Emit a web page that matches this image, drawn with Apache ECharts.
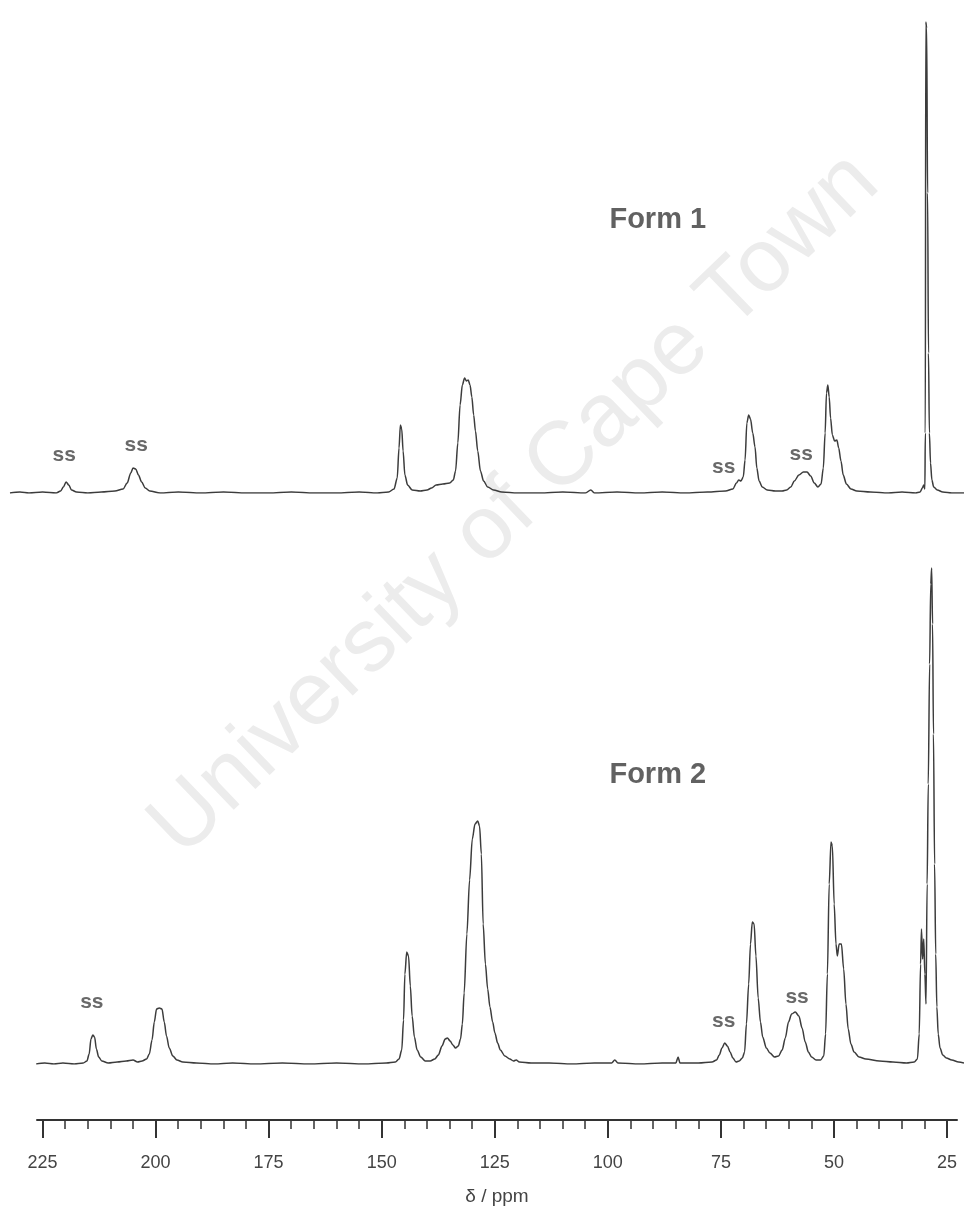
<!DOCTYPE html>
<html style="height: 100%">
<head>
<meta charset="utf-8">
</head>
<body style="height: 100%; margin: 0; background: #fff">
<div id="container" style="width: 964px; height: 1219px"></div>
<script type="text/javascript" src="https://cdn.jsdelivr.net/npm/echarts@6/dist/echarts.min.js"></script>
<script type="text/javascript">
// spectra: [ppm, intensity] (intensity in arbitrary units)
var form1 = [
  [232.2,0],[230,1],[228,0],[225,1],[222,0],[221,2],[220.4,6],[219.8,11],[219.2,8],[218.6,3],[217.5,1],[215,0],
  [212,1],[209,2],[207.2,4],[206.3,10],[205.5,20],[205,25],[204.4,24],[203.8,18],[203.1,11],[202.3,5],[201.3,2],
  [199,0],[195,1],[190,0],[185,1],[180,0],[175,0],[170,1],[165,0],[160,0],[155,1],[151,0],[148.5,1],
  [147.3,4],[146.6,15],[146.2,45],[145.9,68],[145.6,64],[145.3,42],[144.9,18],[144.3,8],[143.3,3],[141.5,2],
  [140,3],[139,5],[138,8],[136.5,9],[135,10],[134.2,13],[133.7,22],[133.2,50],[132.7,88],[132.2,108],
  [131.7,115],[131.3,112],[130.9,113],[130.5,108],[130.1,96],[129.7,78],[129.3,62],[128.8,42],[128.2,22],
  [127.5,12],[126.6,6],[125.3,3],[123.5,1],[120,0],[115,0],[110,1],[105,0],[103.8,3],[103,0],[98,1],[93,0],
  [88,1],[83,0],[78,1],[74,2],[72.4,4],[71.6,10],[71.1,13],[70.6,12],[70.1,16],[69.7,33],[69.3,70],[68.9,78],
  [68.5,74],[68.0,60],[67.5,46],[67.1,25],[66.6,12],[65.9,6],[64.8,3],[63,2],[61.5,2],[60.5,3],[59.6,6],
  [58.8,12],[57.8,18],[56.8,21],[56,21],[55.2,17],[54.4,10],[53.6,6],[52.9,9],[52.4,25],[52.0,60],[51.7,100],
  [51.4,108],[51.1,96],[50.8,75],[50.4,58],[49.9,52],[49.4,53],[49.0,45],[48.5,32],[48.0,18],[47.3,9],
  [46.3,4],[45,2],[42,1],[38,0],[35,1],[32,0],[31,1],[30.5,5],[30.2,8],[29.95,4],[29.85,60],[29.75,471],
  [29.55,465],[29.35,300],[29.15,140],[28.95,60],[28.7,30],[28.4,13],[28.0,6],[27.2,3],[26,1],[24,0],[21.3,0]
];
var form2 = [
  [226.4,0],[224.5,1],[222.5,0],[220.5,1],[218,0],[216,1],[215.2,3],[214.7,10],[214.3,25],[213.9,29],
  [213.5,27],[213.1,15],[212.6,7],[211.9,3],[210.5,1],[208.5,2],[206.5,3],[205,4],[204,2],[203,3],[202,5],
  [201.4,10],[200.8,24],[200.3,42],[199.8,55],[199.2,56],[198.6,55],[198.1,42],[197.6,28],[197,16],
  [196.2,8],[195.3,4],[194,2],[191,1],[187,0],[183,1],[178,0],[172,1],[166,0],[160,1],[154,0],[149,1],
  [147,2],[146.2,5],[145.6,14],[145.2,44],[144.9,90],[144.5,112],[144.1,108],[143.7,78],[143.3,48],
  [142.8,27],[142.2,14],[141.4,7],[140.4,3],[139.3,3],[138.3,5],[137.5,9],[136.7,18],[136,25],[135.5,26],
  [134.9,23],[134.3,19],[133.7,16],[133.1,18],[132.6,25],[132.2,40],[131.8,71],[131.2,130],[130.6,184],
  [130.0,225],[129.4,240],[128.8,243],[128.4,238],[128.0,210],[127.6,140],[127.1,100],[126.6,75],[126.1,57],
  [125.5,42],[125,31],[124.4,21],[123.8,14],[122.8,8],[121.7,5],[120.9,3],[120.3,4],[119.6,2],[117,1],
  [113,1],[108,0],[103,1],[99.2,1],[98.5,4],[97.8,1],[93,0],[88,1],[85,1],[84.5,7],[84.1,1],[80,1],[77,2],
  [76,4],[75.4,9],[74.8,16],[74.2,21],[73.6,18],[73.0,12],[72.4,6],[71.7,2],[71.0,3],[70.3,6],[69.8,12],
  [69.4,40],[68.9,80],[68.5,120],[68.1,142],[67.7,140],[67.3,108],[66.8,66],[66.3,42],[65.8,27],[65,16],
  [64.2,11],[63.2,7],[62.3,8],[61.5,14],[60.8,26],[60.1,42],[59.4,50],[58.6,52],[57.8,48],[57.1,36],
  [56.4,22],[55.7,12],[55,7],[54,4],[53,4],[52.3,8],[51.9,30],[51.5,90],[51.1,180],[50.7,222],[50.4,218],
  [50.0,160],[49.6,120],[49.3,108],[48.9,120],[48.4,120],[47.9,95],[47.4,60],[46.9,35],[46.3,20],
  [45.6,12],[44.5,7],[43,5],[40,3],[37,2],[34,1],[32.3,2],[31.6,5],[31.2,30],[30.9,100],[30.7,135],
  [30.45,105],[30.2,125],[29.95,90],[29.7,60],[29.45,180],[29.2,280],[28.9,400],[28.65,480],[28.45,496],
  [28.25,440],[28.05,330],[27.8,200],[27.55,110],[27.3,57],[27.0,30],[26.6,16],[26.0,9],[25.2,6],[24,4],
  [22.5,2],[21.3,1]
];
// spinning sideband labels and titles, in [ppm, intensity]
var ssForm1 = [[220.2,38],[204.3,48],[74.4,26],[57.3,39]];
var ssForm2 = [[214.1,62],[74.4,43],[58.2,67]];
var titles1 = [{name: 'Form 1', value: [89, 273]}];
var titles2 = [{name: 'Form 2', value: [89, 289]}];
// axis ticks
var majorTicks = [225, 200, 175, 150, 125, 100, 75, 50, 25];
var minorTicks = [];
for (var t = 225; t >= 25; t -= 5) minorTicks.push(t);

var chart = echarts.init(document.getElementById('container'));
var lineColor = '#3c3c3c';
var font = "'Liberation Sans', Arial, sans-serif";

function hiddenX(idx) {
  return {gridIndex: idx, type: 'value', min: 21.3, max: 232.2, inverse: true, show: false};
}
function ssSeries(data, xi) {
  return {
    type: 'scatter', xAxisIndex: xi, yAxisIndex: xi, data: data, symbolSize: 0, silent: true, z: 5,
    label: {show: true, position: 'inside', formatter: 'ss', color: '#444', fontSize: 21, fontWeight: 'bold', fontFamily: font}
  };
}
function titleSeries(data, xi) {
  return {
    type: 'scatter', xAxisIndex: xi, yAxisIndex: xi, data: data, symbolSize: 0, silent: true, z: 5,
    label: {show: true, position: 'inside', formatter: '{b}', color: '#3a3a3a', fontSize: 29, fontWeight: 'bold', fontFamily: font}
  };
}

var option = {
  animation: false,
  backgroundColor: '#fff',
  graphic: [{
    type: 'text', x: 515, y: 505, rotation: Math.PI / 4 - 0.02, z: -10, silent: true,
    style: {text: 'University of Cape Town', font: "90px 'Liberation Sans', Arial, sans-serif", fill: '#ececec', align: 'center', verticalAlign: 'middle'}
  }],
  grid: [
    {left: 10, right: 0, top: 20, height: 473},
    {left: 10, right: 0, top: 560, height: 504},
    {left: 37, right: 7, top: 1110, height: 10}
  ],
  xAxis: [
    hiddenX(0),
    hiddenX(1),
    {
      gridIndex: 2, type: 'value', min: 22.8, max: 226.2, inverse: true, position: 'bottom',
      axisLine: {show: true, lineStyle: {color: '#333', width: 2}},
      axisTick: {show: true, customValues: minorTicks, length: 9, lineStyle: {color: '#333', width: 1.5}},
      axisLabel: {show: false}, splitLine: {show: false}
    },
    {
      gridIndex: 2, type: 'value', min: 22.8, max: 226.2, inverse: true, position: 'bottom',
      name: 'δ / ppm', nameLocation: 'middle', nameGap: 67,
      nameTextStyle: {fontSize: 19, color: '#444', fontFamily: font},
      axisLine: {show: false},
      axisTick: {show: true, customValues: majorTicks, length: 18, lineStyle: {color: '#333', width: 2}},
      axisLabel: {show: true, customValues: majorTicks, margin: 34, fontSize: 18, color: '#444', fontFamily: font},
      splitLine: {show: false}
    }
  ],
  yAxis: [
    {gridIndex: 0, type: 'value', min: 0, max: 473, show: false},
    {gridIndex: 1, type: 'value', min: 0, max: 504, show: false},
    {gridIndex: 2, type: 'value', min: 0, max: 1, show: false}
  ],
  series: [
    {type: 'line', xAxisIndex: 0, yAxisIndex: 0, data: form1, showSymbol: false, smooth: 0.3, smoothMonotone: 'x',
     lineStyle: {color: lineColor, width: 1.5}, silent: true, z: 3},
    {type: 'line', xAxisIndex: 1, yAxisIndex: 1, data: form2, showSymbol: false, smooth: 0.3, smoothMonotone: 'x',
     lineStyle: {color: lineColor, width: 1.5}, silent: true, z: 3},
    ssSeries(ssForm1, 0),
    ssSeries(ssForm2, 1),
    titleSeries(titles1, 0),
    titleSeries(titles2, 1)
  ]
};
chart.setOption(option);
</script>
</body>
</html>
